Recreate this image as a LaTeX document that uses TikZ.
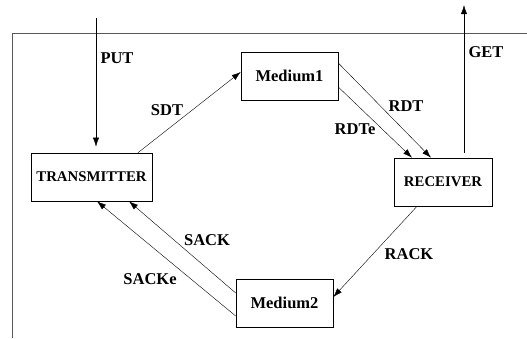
\documentclass[tikz,border=0pt]{standalone}
\usepackage{fontspec}
\setmainfont{Liberation Serif}
\usetikzlibrary{arrows.meta}

\begin{document}
\begin{tikzpicture}[x=1pt, y=-1pt, >={Latex[length=9pt,width=6pt]},
    font=\fontsize{16.5}{19}\selectfont\bfseries,
    box/.style={draw, line width=0.6pt, minimum height=48pt, inner sep=0pt},
    small/.style={font=\fontsize{14.8}{17}\selectfont\bfseries},
    lbl/.style={anchor=base, inner sep=0pt}]
    \useasboundingbox (0,0) rectangle (527,338);
    % open frame
    \draw[line width=1pt, black!65] (527,33) -- (12,33) -- (12,338);
    % processes
    \node[box, small, minimum width=121pt] (tx) at (91.5,177) {TRANSMITTER};
    \node[box, minimum width=97pt] (m1) at (289.5,76) {Medium1};
    \node[box, small, minimum width=98pt] (rx) at (443,182) {RECEIVER};
    \node[box, minimum width=97pt] (m2) at (284.5,303) {Medium2};
    \coordinate (put) at (96,18);
    \coordinate (get) at (464,5);
    % channels
    \draw[->, shorten >=6pt] (put) -- (put |- tx.north);
    \draw[->, shorten <=5pt] (get |- rx.north) -- (get);
    \draw[->] ([xshift=46.5pt]tx.north) -- ([yshift=4pt]m1.west);
    \draw[->] ([yshift=13pt]m1.east) -- ([xshift=-12pt]rx.north);
    \draw[->] ([yshift=-11pt]m1.east) -- ([xshift=-31pt]rx.north);
    \draw[->] ([xshift=-26pt]rx.south) -- ([yshift=6pt]m2.east);
    \draw[->] ([yshift=10pt]m2.west) -- ([xshift=37.5pt]tx.south);
    \draw[->] ([yshift=-13pt]m2.west) -- ([xshift=5.5pt]tx.south);
    % labels
    \node[lbl] (lput) at (117,63) {PUT};
    \node[lbl] (lget) at (486,57) {GET};
    \node[lbl] (lsdt) at (167,115) {SDT};
    \node[lbl] (lrdt) at (406,111) {RDT};
    \node[lbl] (lrdte) at (355,134) {RDTe};
    \node[lbl] (lrack) at (409,259) {RACK};
    \node[lbl] (lsack) at (207,245) {SACK};
    \node[lbl] (lsacke) at (150,284) {SACKe};
\end{tikzpicture}
\end{document}
